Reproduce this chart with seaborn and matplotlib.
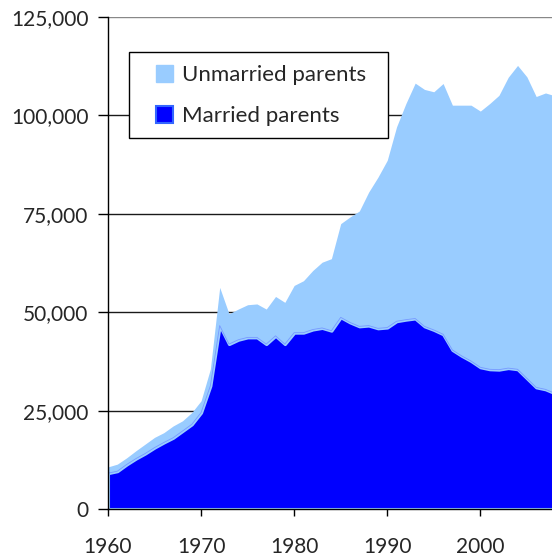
import numpy as np
import pandas as pd
import matplotlib
matplotlib.use("Agg")
import matplotlib.pyplot as plt
from matplotlib.patches import Patch, Rectangle
from matplotlib.ticker import FuncFormatter
import seaborn as sns

# ==================================================
# DATA
# ==================================================
years = list(range(1960, 2009))

married = [9100, 9600, 11300, 12800, 14100, 15600, 16900, 18100, 19800, 21500,
           24500, 31300, 46600, 41900, 43000, 43600, 43600, 41900, 44000, 41900,
           44800, 44800, 45600, 46000, 45300, 48700, 47400, 46400, 46600, 45900,
           46100, 47700, 48100, 48400, 46400, 45500, 44400, 40400, 38900, 37600,
           36000, 35500, 35400, 35800, 35500, 33200, 30900, 30400, 29400]

unmarried = [1600, 1800, 1700, 2000, 2400, 2600, 2500, 3000, 2600, 3000,
             3000, 4300, 9700, 7700, 7800, 8300, 8500, 8900, 10000, 10600,
             12000, 13200, 15000, 16700, 18300, 23800, 26800, 29300, 33900, 38400,
             42500, 49400, 54900, 59800, 60200, 60500, 63700, 62200, 63700, 65000,
             65100, 67500, 69700, 73900, 77200, 76600, 73900, 75300, 75600]

series_labels = ["Unmarried parents", "Married parents"]
y_ticks = [0, 25000, 50000, 75000, 100000, 125000]
x_ticks = [1960, 1970, 1980, 1990, 2000]

# ==================================================
# PLOT
# ==================================================
def main():
    df = pd.DataFrame({"year": years, "married": married, "unmarried": unmarried})
    df["total"] = df["married"] + df["unmarried"]

    sns.set_theme(style="white")
    plt.rcParams["font.family"] = ["Lato", "DejaVu Sans"]

    light = "#99ccff"
    blue = "#0000ff"

    fig = plt.figure(figsize=(5.52, 5.59), dpi=100)
    ax = fig.add_axes([108 / 552, 50 / 559, 444 / 552, 492 / 559])

    # stacked areas
    ax.fill_between(df["year"], df["married"], df["total"], color=light, lw=0, zorder=2)
    ax.fill_between(df["year"], 0, df["married"], facecolor=blue, edgecolor=light,
                    lw=2.2, zorder=3)
    sns.lineplot(data=df, x="year", y="married", ax=ax, color="#7799ff", lw=0.6,
                 zorder=4, legend=False)

    # horizontal gridlines behind the areas
    for t in y_ticks[1:]:
        ax.axhline(t, color="#1a1a1a" if t < 125000 else "#888888", lw=1, zorder=1)

    ax.set_xlim(1960, 2007.7)
    ax.set_ylim(0, 125000)
    ax.set_xticks(x_ticks)
    ax.set_yticks(y_ticks)
    ax.yaxis.set_major_formatter(FuncFormatter(lambda v, p: f"{v:,.0f}"))
    ax.set_xlabel("")
    ax.set_ylabel("")

    for s in ["top", "right"]:
        ax.spines[s].set_visible(False)
    for s in ["left", "bottom"]:
        ax.spines[s].set_color("#000000")
        ax.spines[s].set_linewidth(1.0)
        ax.spines[s].set_zorder(5)

    ax.tick_params(axis="y", direction="out", length=7, width=1, color="black",
                   labelsize=15, pad=7, left=True)
    ax.tick_params(axis="x", direction="out", length=5, width=1, color="black",
                   labelsize=15, pad=15, bottom=True)

    # legend box drawn separately so the padding can differ per side
    box = Rectangle((0.0473, 0.7541), 0.5833, 0.1748, transform=ax.transAxes,
                    facecolor="white", edgecolor="black", lw=1.0, zorder=6)
    ax.add_patch(box)

    handles = [Patch(facecolor=light, edgecolor=light, label=series_labels[0]),
               Patch(facecolor=blue, edgecolor="#3366ff", lw=1.5, label=series_labels[1])]
    leg = ax.legend(handles=handles, loc="center left", bbox_to_anchor=(0.108, 0.8404),
                    frameon=False, fontsize=16, handlelength=0.77, handleheight=0.77,
                    handletextpad=0.38, labelspacing=0.95, borderpad=0, borderaxespad=0)
    leg.set_zorder(7)

    fig.savefig("out.png", dpi=100)


if __name__ == "__main__":
    main()
